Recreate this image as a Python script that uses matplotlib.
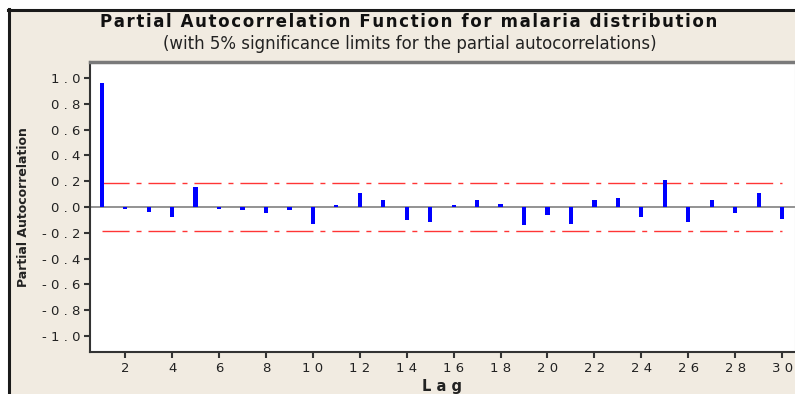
import matplotlib
matplotlib.use("Agg")
import matplotlib.pyplot as plt
import numpy as np
from matplotlib.patches import Rectangle

# partial autocorrelations
lags = np.arange(1, 31)
pacf = [0.96, -0.013, -0.04, -0.075, 0.155, -0.013, -0.026, -0.05, -0.026, -0.134,
        0.018, 0.111, 0.054, -0.103, -0.119, 0.018, 0.054, 0.026, -0.142, -0.062,
        -0.134, 0.054, 0.07, -0.075, 0.207, -0.119, 0.054, -0.047, 0.111, -0.09]
sig_limit = 0.185
yticks = [1.0, 0.8, 0.6, 0.4, 0.2, 0.0, -0.2, -0.4, -0.6, -0.8, -1.0]
xticks = list(range(2, 31, 2))

bg = "#f1ebe1"
W, H = 795, 394
fig = plt.figure(figsize=(W / 100, H / 100), dpi=100)
fig.patch.set_facecolor("white")

# beige panel with dark frame on top/left
fig.patches.append(Rectangle((8 / W, 0), 1.0, 1 - 10 / H, transform=fig.transFigure,
                             facecolor=bg, edgecolor="none", zorder=0))
fig.add_artist(plt.Line2D([9 / W, 9 / W], [0, 1 - 9 / H], transform=fig.transFigure,
                          color="#1a1a1a", lw=2.2))
fig.add_artist(plt.Line2D([8 / W, 1], [1 - 10 / H, 1 - 10 / H], transform=fig.transFigure,
                          color="#1a1a1a", lw=2.2))

ax = fig.add_axes([90 / W, 1 - 352 / H, (795 - 90) / W, (352 - 62) / H])
ax.set_zorder(5)
ax.set_facecolor("white")

ax.bar(lags, pacf, width=0.18, color="#0000ff", zorder=3)
ax.axhline(0, color="#808080", lw=1.2, zorder=2)
for s in (sig_limit, -sig_limit):
    ax.plot([lags[0], lags[-1]], [s, s], color="#ff3535", lw=1.0,
            dashes=(19.5, 5, 3.6, 5), zorder=2)

ax.set_xlim(0.5, 30.55)
ax.set_ylim(-1.124, 1.124)
ax.set_yticks(yticks)
ax.set_yticklabels([" ".join(f"{v:.1f}") for v in yticks])
ax.set_xticks(xticks)
ax.set_xticklabels([" ".join(str(v)) for v in xticks])
ax.tick_params(axis="both", direction="out", length=4, width=1.5, color="#333333",
               labelsize=9.5, labelcolor="#222222", pad=3)

for side in ("left", "bottom"):
    ax.spines[side].set_color("#333333")
    ax.spines[side].set_linewidth(1.5)
ax.spines["top"].set_color("#7a7a7a")
ax.spines["top"].set_linewidth(2.5)
ax.spines["right"].set_color("#bbbbbb")

fig.text(24 / W, 1 - 207 / H, "Partial Autocorrelation", rotation=90, ha="center",
         va="center", fontsize=9, fontweight="bold", color="#222222")
fig.text(442 / W, 1 - 386 / H, "L a g", ha="center", va="center", fontsize=10.5,
         fontweight="bold", color="#222222")

fig.text(409 / W, 1 - 22 / H, "\u200a".join("Partial Autocorrelation Function for malaria distribution"),
         ha="center", va="center", fontsize=12, fontweight="bold", color="#111111")
fig.text(410 / W, 1 - 44 / H, "(with 5% significance limits for the partial autocorrelations)",
         ha="center", va="center", fontsize=12, color="#222222")

fig.savefig("out.png", dpi=100, facecolor=fig.get_facecolor())
